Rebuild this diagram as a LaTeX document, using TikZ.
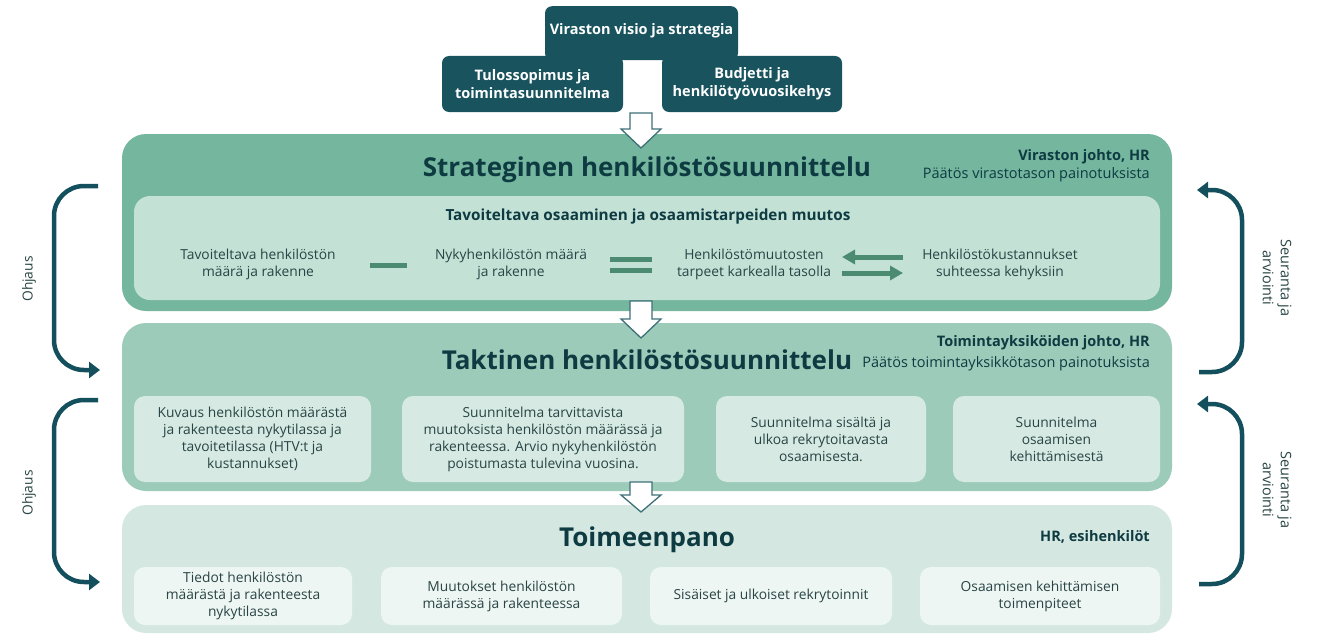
\documentclass[tikz,border=0pt]{standalone}
\usepackage{fontspec}
\setmainfont{Open Sans}
\usetikzlibrary{arrows.meta}
\definecolor{topc}{HTML}{18535E}
\definecolor{stratc}{HTML}{74B69E}
\definecolor{stratin}{HTML}{C4E1D6}
\definecolor{taktc}{HTML}{9DCBB9}
\definecolor{taktin}{HTML}{D6EAE3}
\definecolor{toimc}{HTML}{D4E8E1}
\definecolor{toimin}{HTML}{EEF6F3}
\definecolor{brc}{HTML}{134F5C}
\definecolor{titlec}{HTML}{0E3B42}
\definecolor{bodyc}{HTML}{284444}
\definecolor{barc}{HTML}{4A8B72}
\definecolor{harc}{HTML}{3E7077}
\newcommand\bodyfont{\fontsize{13.8}{17}\selectfont}
\newcommand\hollowarr[4]{% x, top, headstart, tip
  \draw[hollow] (#1-11,#2) -- (#1-11,#3) -- (#1-20,#3) -- (#1,#4) -- (#1+20,#3) -- (#1+11,#3) -- (#1+11,#2) -- cycle;}
\begin{document}
\begin{tikzpicture}[x=1pt,y=-1pt,
  topbox/.style={fill=topc, rounded corners=7pt, text=white, align=center, inner sep=0,
    font=\fontsize{14.5}{18}\selectfont\bfseries},
  layer/.style={rounded corners=24pt, inner sep=0, minimum width=1050pt},
  subbox/.style={rounded corners=11pt, align=center, text=bodyc, inner sep=0, font=\bodyfont},
  txt/.style={align=center, text=bodyc, inner sep=0, font=\bodyfont},
  bigtitle/.style={text=titlec, inner sep=0, font=\fontsize{26}{30}\selectfont\bfseries},
  rlabel/.style={anchor=east, align=right, text=titlec, inner sep=0, font=\fontsize{14.5}{18}\selectfont},
  bar/.style={draw=barc, line width=5pt},
  hollow/.style={draw=harc, fill=white, line width=1.3pt, line join=miter},
  bracket/.style={draw=brc, line width=4.5pt, rounded corners=30pt,
    -{Triangle[width=16pt,length=11pt]}},
  vlabel/.style={align=center, text=bodyc, inner sep=0, font=\bodyfont}
]
\useasboundingbox (0,0) rectangle (1324,634);

% top boxes
\node[topbox, minimum width=193pt, minimum height=54pt, anchor=north] (visio) at (641.5,6) {};
\node[text=white, font=\fontsize{14.5}{18}\selectfont\bfseries, inner sep=0] (visiot) at (641.5,31) {Viraston visio ja strategia};
\node[topbox, minimum width=181pt, minimum height=56pt] (tulos) at (532.5,84) {Tulossopimus ja\\toimintasuunnitelma};
\node[topbox, minimum width=180pt, minimum height=56pt] (budj) at (752,84) {Budjetti ja\\henkilötyövuosikehys};

% Strategic layer
\node[layer, fill=stratc, minimum height=177pt] (strat) at (647,222.5) {};
\node[bigtitle] (strattitle) at (647,170) {Strateginen henkilöstösuunnittelu};
\node[rlabel] (stratr) at (1150,165.5) {\textbf{Viraston johto, HR}\\Päätös virastotason painotuksista};
\node[rounded corners=16pt, fill=stratin, minimum width=1026pt, minimum height=104pt, inner sep=0] (stratinbox) at (647,248) {};
\node[text=titlec, inner sep=0, font=\fontsize{15.3}{18}\selectfont\bfseries] (stratsub) at (648,217) {Tavoiteltava osaaminen ja osaamistarpeiden muutos};
\node[txt] (s1) at (258,264) {Tavoiteltava henkilöstön\\määrä ja rakenne};
\node[txt] (s2) at (511,264) {Nykyhenkilöstön määrä\\ja rakenne};
\node[txt] (s3) at (754,264) {Henkilöstömuutosten\\tarpeet karkealla tasolla};
\node[txt] (s4) at (1000,264) {Henkilöstökustannukset\\suhteessa kehyksiin};
\draw[bar] (370,265) -- (407,265);
\draw[bar] (610,259) -- (652,259);
\draw[bar] (610,270) -- (652,270);
\draw[draw=barc, line width=5pt, -{Triangle[width=14pt,length=13pt]}] (903,257) -- (842,257);
\draw[draw=barc, line width=5pt, -{Triangle[width=14pt,length=13pt]}] (842,273) -- (903,273);

% Tactical layer
\node[layer, fill=taktc, minimum height=168pt] (takt) at (647,407) {};
\node[bigtitle] (takttitle) at (647,360) {Taktinen henkilöstösuunnittelu};
\node[rlabel, font=\fontsize{14.5}{18}\selectfont\bfseries] (taktr1) at (1150,343) {Toimintayksiköiden johto, HR};
\node[rlabel] (taktr2) at (1150,364) {Päätös toimintayksikkötason painotuksista};
\node[subbox, fill=taktin, minimum width=237pt, minimum height=86pt] (k1) at (252.5,439) {Kuvaus henkilöstön määrästä\\ja rakenteesta nykytilassa ja\\tavoitetilassa (HTV:t ja\\kustannukset)};
\node[subbox, fill=taktin, minimum width=282pt, minimum height=86pt] (k2) at (543,439) {Suunnitelma tarvittavista\\muutoksista henkilöstön määrässä ja\\rakenteessa. Arvio nykyhenkilöstön\\poistumasta tulevina vuosina.};
\node[subbox, fill=taktin, minimum width=210pt, minimum height=86pt] (k3) at (821,439) {Suunnitelma sisältä ja\\ulkoa rekrytoitavasta\\osaamisesta.};
\node[subbox, fill=taktin, minimum width=207pt, minimum height=86pt] (k4) at (1056.5,439) {Suunnitelma\\osaamisen\\kehittämisestä};

% Implementation layer
\node[layer, fill=toimc, minimum height=128pt] (toim) at (647,569) {};
\node[bigtitle] (toimtitle) at (647,540) {Toimeenpano};
\node[rlabel, font=\fontsize{14.5}{18}\selectfont\bfseries] (toimr) at (1150,537) {HR, esihenkilöt};
\node[subbox, fill=toimin, minimum width=218pt, minimum height=58pt] (b1) at (243,596) {Tiedot henkilöstön\\määrästä ja rakenteesta\\nykytilassa};
\node[subbox, fill=toimin, minimum width=241pt, minimum height=58pt] (b2) at (501.5,596) {Muutokset henkilöstön\\määrässä ja rakenteessa};
\node[subbox, fill=toimin, minimum width=242pt, minimum height=58pt] (b3) at (771,596) {Sisäiset ja ulkoiset rekrytoinnit};
\node[subbox, fill=toimin, minimum width=240pt, minimum height=58pt] (b4) at (1040,596) {Osaamisen kehittämisen\\toimenpiteet};

% hollow arrows
\hollowarr{641}{113}{129}{148}
\hollowarr{641}{301}{319}{338}
\hollowarr{641}{482}{495}{512}

% left brackets
\coordinate (l1s) at (98,186);
\coordinate (l1e) at (100,370);
\coordinate (l2s) at (98,400);
\coordinate (l2e) at (100,582);
\draw[bracket] (l1s) -- (54,186) -- (54,370) -- (l1e);
\draw[bracket] (l2s) -- (54,400) -- (54,582) -- (l2e);
\node[vlabel, rotate=90] (oh1) at (29,279) {Ohjaus};
\node[vlabel, rotate=90] (oh2) at (29,493) {Ohjaus};

% right brackets
\coordinate (r1s) at (1199,372);
\coordinate (r1e) at (1197,190);
\coordinate (r2s) at (1199,584);
\coordinate (r2e) at (1197,404);
\draw[bracket] (r1s) -- (1242,372) -- (1242,190) -- (r1e);
\draw[bracket] (r2s) -- (1242,584) -- (1242,404) -- (r2e);
\node[vlabel, rotate=-90, font=\fontsize{14.5}{18}\selectfont] (se1) at (1277,278) {Seuranta ja\\arviointi};
\node[vlabel, rotate=-90, font=\fontsize{14.5}{18}\selectfont] (se2) at (1277,490) {Seuranta ja\\arviointi};
\end{tikzpicture}
\end{document}
